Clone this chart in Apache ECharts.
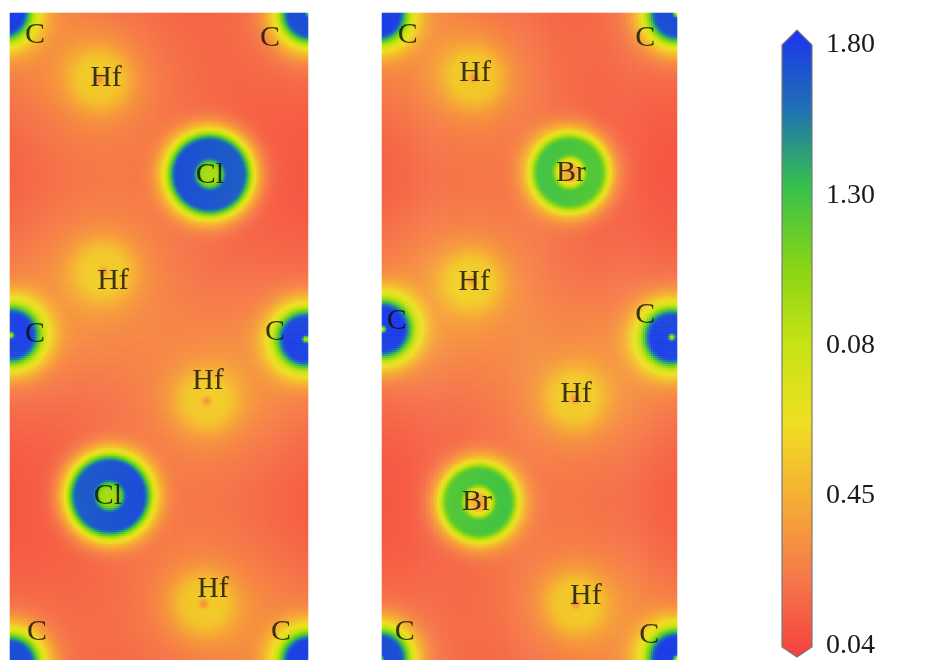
<!DOCTYPE html>
<html>
<head>
<meta charset="utf-8">
<script src="https://cdn.jsdelivr.net/npm/echarts@6/dist/echarts.min.js"></script>
<style>
  html, body { margin: 0; padding: 0; background: #ffffff; }
  #chart { width: 928px; height: 660px; }
</style>
</head>
<body>
<div id="chart"></div>
<script>
// ELF colour bar: tick labels from bottom to top, and the colour stops of the bar
const TICK_LABELS = ['0.04', '0.45', '0.08', '1.30', '1.80'];
const SCALE_COLORS = ['#f5403e', '#f6784a', '#f6ac34', '#efdf22', '#c6e314',
                      '#86d416', '#36c04c', '#1f70b4', '#1b34f0'];

// Atom sites of the Hf2CCl2 slice (x, y in slice units, y downward)
const CL_SITES = [
  ['C', -8, -1], ['C', 300, 1], ['C', 1, 323], ['C', 296, 327], ['C', 0, 652], ['C', 300, 650],
  ['Cl', 200, 162], ['Cl', 100, 484],
  ['Hf', 90, 67], ['Hf', 94, 259], ['Hf', 197, 389], ['Hf', 194, 592]
];
// Atom sites of the Hf2CBr2 slice
const BR_SITES = [
  ['C', -4, 1], ['C', 298, 1], ['C', 1, 317], ['C', 293, 325], ['C', -2, 647], ['C', 298, 647],
  ['Br', 190, 160], ['Br', 98, 490],
  ['Hf', 93, 65], ['Hf', 91, 269], ['Hf', 195, 387], ['Hf', 196, 592]
];

// Element labels written on each slice
const CL_LABELS = [
  ['C', 25, 22], ['C', 260, 25], ['C', 25, 322], ['C', 265, 320], ['C', 27, 620], ['C', 271, 620],
  ['Hf', 96, 65], ['Hf', 103, 269], ['Hf', 198, 369], ['Hf', 203, 577],
  ['Cl', 200, 162], ['Cl', 98, 484]
];
const BR_LABELS = [
  ['C', 26, 22], ['C', 266, 25], ['C', 15, 309], ['C', 266, 303], ['C', 23, 620], ['C', 270, 623],
  ['Hf', 94, 60], ['Hf', 93, 270], ['Hf', 196, 382], ['Hf', 206, 584],
  ['Br', 191, 160], ['Br', 96, 490]
];

// Radial ELF shape per element, in colour-bar units (0 = bottom tick, 4 = top tick),
// given as a rise above the interstitial level: core value, plateau [r1, r2],
// inner flank width, a steep outer flank plus a slow outer tail
const PROFILES = {
  C:  { core: 1.1,  peak: 3.2,  r1: 5,  r2: 20, inW: 3, outW: 9,  tail: 0.5, tailW: 22, halo: 0.40, haloR: 80 },
  Cl: { core: 1.8,  peak: 3.3,  r1: 18, r2: 33, inW: 6, outW: 8,  tail: 0.5, tailW: 18, halo: 0.15, haloR: 70 },
  Br: { core: 0.5,  peak: 2.45, r1: 20, r2: 31, inW: 8, outW: 8,  tail: 0.5, tailW: 18, halo: 0.15, haloR: 70 },
  Hf: { core: -0.1, peak: 0.6,  r1: 8,  r2: 16, inW: 6, outW: 16, tail: 0.45, tailW: 28, halo: 0.45, haloR: 95 }
};
const BASE_LEVEL = 0.18;

const SLICE_W = 298, SLICE_H = 648, STEP = 2;
const NX = SLICE_W / STEP, NY = SLICE_H / STEP;

function sliceCells(sites) {
  const out = [];
  for (let i = 0; i < NX; i++) {
    for (let j = 0; j < NY; j++) {
      const x = (i + 0.5) * STEP, y = (j + 0.5) * STEP;
      let bg = BASE_LEVEL, inner = null, ring = 0;
      for (const [el, ax, ay] of sites) {
        const p = PROFILES[el];
        const r = Math.hypot(x - ax, y - ay);
        const h = r / p.haloR;
        bg += p.halo * Math.exp(-(h * h));
        if (r < p.r1) {
          const d = (p.r1 - r) / p.inW;
          inner = p.core + (p.peak - p.core) * Math.exp(-(d * d));
        } else if (r <= p.r2) {
          inner = p.peak;
        } else {
          const d1 = (r - p.r2) / p.outW, d2 = (r - p.r2) / p.tailW;
          const f = (1 - p.tail) * Math.exp(-(d1 * d1)) + p.tail * Math.exp(-(d2 * d2));
          ring = Math.max(ring, p.peak * f);
        }
      }
      const v = bg + (inner === null ? ring : inner);
      out.push([i, j, Math.max(0, Math.min(4, v))]);
    }
  }
  return out;
}

const xCats = Array.from({ length: NX }, (_, i) => i);
const yCats = Array.from({ length: NY }, (_, j) => j);

const SLICES = [
  { left: 10, width: 298, sites: CL_SITES, labels: CL_LABELS },
  { left: 382, width: 295, sites: BR_SITES, labels: BR_LABELS }
];
const TOP = 13, HEIGHT = 647;

const grids = [], xAxes = [], yAxes = [], series = [];
const hidden = { show: false };
SLICES.forEach((s, k) => {
  // heatmap grid (category cells) and an overlay grid in slice units for the labels
  grids.push({ left: s.left, top: TOP, width: s.width, height: HEIGHT });
  grids.push({ left: s.left, top: TOP, width: s.width, height: HEIGHT });
  const g = k * 2;
  xAxes.push({ type: 'category', gridIndex: g, data: xCats, axisLine: hidden, axisTick: hidden, axisLabel: hidden, splitLine: hidden });
  yAxes.push({ type: 'category', gridIndex: g, data: yCats, inverse: true, axisLine: hidden, axisTick: hidden, axisLabel: hidden, splitLine: hidden });
  xAxes.push({ type: 'value', gridIndex: g + 1, min: 0, max: SLICE_W, axisLine: hidden, axisTick: hidden, axisLabel: hidden, splitLine: hidden });
  yAxes.push({ type: 'value', gridIndex: g + 1, min: 0, max: SLICE_H, inverse: true, axisLine: hidden, axisTick: hidden, axisLabel: hidden, splitLine: hidden });
  series.push({
    type: 'heatmap', xAxisIndex: g, yAxisIndex: g,
    data: sliceCells(s.sites), progressive: 0, silent: true,
    emphasis: { disabled: true }
  });
  series.push({
    type: 'scatter', xAxisIndex: g + 1, yAxisIndex: g + 1,
    symbolSize: 0, silent: true, z: 5,
    data: s.labels.map(([t, x, y]) => ({ name: t, value: [x, y] })),
    label: {
      show: true, position: 'inside', formatter: '{b}',
      fontFamily: 'Liberation Serif', fontSize: 30, color: '#0d0d0d'
    }
  });
});

// colour bar
const CB = 4;
grids.push({ left: 782, top: 45, width: 30, height: 602 });
xAxes.push({ type: 'value', gridIndex: CB, min: 0, max: 1, show: false });
yAxes.push({
  type: 'value', gridIndex: CB, min: 0, max: 4, interval: 1, position: 'right', offset: 5,
  axisLine: hidden, splitLine: hidden,
  axisTick: { show: true, length: 7, lineStyle: { color: '#444', width: 1.5 } },
  axisLabel: {
    margin: 9, fontFamily: 'Liberation Serif', fontSize: 28, color: '#1a1a1a',
    formatter: v => TICK_LABELS[v]
  }
});
series.push({
  type: 'custom', xAxisIndex: CB, yAxisIndex: CB, silent: true,
  data: [[0, 0]],
  renderItem: (params, api) => {
    const [x0, yBot] = api.coord([0, 0]);
    const [x1, yTop] = api.coord([1, 4]);
    const xm = (x0 + x1) / 2;
    const stops = SCALE_COLORS.map((c, i) => ({ offset: 1 - i / (SCALE_COLORS.length - 1), color: c }));
    return {
      type: 'polygon',
      shape: { points: [[x0, yTop], [xm, yTop - 15], [x1, yTop], [x1, yBot + 1], [xm, yBot + 11], [x0, yBot + 1]] },
      style: {
        fill: new echarts.graphic.LinearGradient(0, 0, 0, 1, stops),
        stroke: '#7a7a7a', lineWidth: 1.2
      }
    };
  }
});

const chart = echarts.init(document.getElementById('chart'), null, { renderer: 'canvas' });
chart.setOption({
  animation: false,
  backgroundColor: '#ffffff',
  grid: grids, xAxis: xAxes, yAxis: yAxes,
  visualMap: {
    show: false, type: 'continuous', min: 0, max: 4, seriesIndex: [0, 2],
    inRange: { color: SCALE_COLORS }
  },
  series
});
</script>
</body>
</html>
